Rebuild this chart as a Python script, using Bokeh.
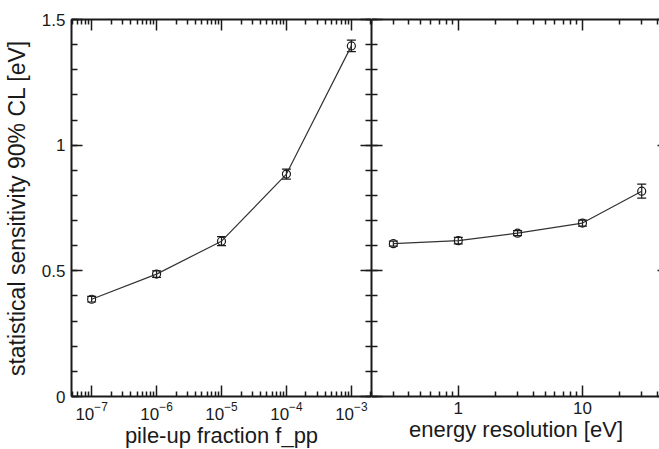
from bokeh.plotting import figure
from bokeh.layouts import row
from bokeh.models import (Range1d, LinearAxis, LogAxis, FixedTicker,
                          CustomJSTickFormatter, LogTickFormatter, Whisker,
                          TeeHead, ColumnDataSource)
from bokeh.embed import file_html
from bokeh.resources import INLINE

# sensitivity vs pile-up fraction
fpp = [1e-7, 1e-6, 1e-5, 1e-4, 1e-3]
sens_fpp = [0.387, 0.487, 0.618, 0.885, 1.395]
err_fpp = [0.011, 0.013, 0.018, 0.020, 0.023]

# sensitivity vs energy resolution
eres = [0.3, 1.0, 3.0, 10.0, 30.0]
sens_eres = [0.608, 0.620, 0.650, 0.690, 0.817]
err_eres = [0.010, 0.013, 0.010, 0.012, 0.028]

y_major = [0, 0.5, 1.0, 1.5]
y_minor = [round(0.1 * i, 1) for i in range(16)]
fpp_major = [10.0 ** k for k in range(-8, -1)]
fpp_minor = [m * 10.0 ** k for k in range(-8, -2) for m in range(2, 10)]
eres_major = [0.1, 1.0, 10.0, 100.0]
eres_minor = [m * 10.0 ** k for k in (-1, 0, 1) for m in range(2, 10)]

FONT = "Liberation Sans"
INK = "#1a1a1a"

plain_fmt = CustomJSTickFormatter(code="return String(tick);")


def style_axis(ax, major_in, minor_in, labels=True):
    ax.axis_line_color = INK
    ax.axis_line_width = 2
    ax.major_tick_line_color = INK
    ax.major_tick_line_width = 1.5
    ax.minor_tick_line_color = INK
    ax.minor_tick_line_width = 1.5
    ax.major_tick_in = major_in
    ax.major_tick_out = 0
    ax.minor_tick_in = minor_in
    ax.minor_tick_out = 0
    ax.major_label_text_font = FONT
    ax.major_label_text_color = INK
    ax.major_label_text_font_size = "17px"
    ax.axis_label_text_font = FONT
    ax.axis_label_text_color = INK
    ax.axis_label_text_font_size = "22px"
    ax.axis_label_text_font_style = "normal"
    if not labels:
        ax.major_label_text_font_size = "1px"
        ax.major_label_text_alpha = 0
        ax.major_label_standoff = 0


def panel(x, y, err, x_range, xticks, xminor, xfmt, frame_w, left_b, right_b, xlabel):
    p = figure(x_axis_type="log", x_range=x_range, y_range=Range1d(0, 1.5),
               frame_width=frame_w, frame_height=377,
               min_border_left=left_b, min_border_right=right_b,
               min_border_top=19, min_border_bottom=52,
               output_backend="svg", toolbar_location=None,
               outline_line_color=None, background_fill_color="white",
               border_fill_color="white")
    p.grid.visible = False

    xt = FixedTicker(ticks=xticks, minor_ticks=xminor)
    yt = FixedTicker(ticks=y_major, minor_ticks=y_minor)

    bx = p.xaxis[0]
    bx.ticker = xt
    bx.formatter = xfmt
    bx.axis_label = xlabel
    style_axis(bx, 11, 5)
    bx.major_label_standoff = 5
    bx.axis_label_standoff = 0

    top = LogAxis(ticker=xt)
    style_axis(top, 11, 5, labels=False)
    p.add_layout(top, "above")

    right = LinearAxis(ticker=yt)
    style_axis(right, 11, 6, labels=False)
    p.add_layout(right, "right")

    src = ColumnDataSource(dict(
        x=x, y=y,
        upper=[v + e for v, e in zip(y, err)],
        lower=[v - e for v, e in zip(y, err)],
    ))
    p.line("x", "y", source=src, line_color="#333333", line_width=1.2)
    p.add_layout(Whisker(source=src, base="x", upper="upper", lower="lower",
                         dimension="height", line_color=INK, line_width=1.2,
                         upper_head=TeeHead(size=9, line_color=INK, line_width=1.2),
                         lower_head=TeeHead(size=9, line_color=INK, line_width=1.2)))
    p.scatter("x", "y", source=src, marker="circle", size=8,
              fill_color=None, line_color=INK, line_width=1.2)
    return p, yt, right


p1, yt1, _ = panel(fpp, sens_fpp, err_fpp, Range1d(10 ** -7.31, 10 ** -2.69),
                   fpp_major, fpp_minor, LogTickFormatter(), 300, 70, 0,
                   "pile-up fraction f_pp")
ly = p1.yaxis[0]
ly.ticker = yt1
ly.formatter = plain_fmt
ly.axis_label = "statistical sensitivity 90% CL [eV]"
style_axis(ly, 11, 6)
ly.axis_label_text_font_size = "23px"
ly.major_label_standoff = 6
ly.axis_label_standoff = 9

p2, yt2, r2 = panel(eres, sens_eres, err_eres, Range1d(0.2, 42.5),
                    eres_major, eres_minor, plain_fmt, 289, 0, 0,
                    "energy resolution [eV]")
ry = p2.yaxis[0]
ry.ticker = yt2
style_axis(ry, 11, 6, labels=False)
# far edge of the right panel: only short stubs at the major ticks
r2.axis_line_color = None
r2.minor_tick_line_color = None
r2.major_tick_in = 3

layout = row(p1, p2, spacing=0)
open("out.html", "w").write(file_html(layout, INLINE))
